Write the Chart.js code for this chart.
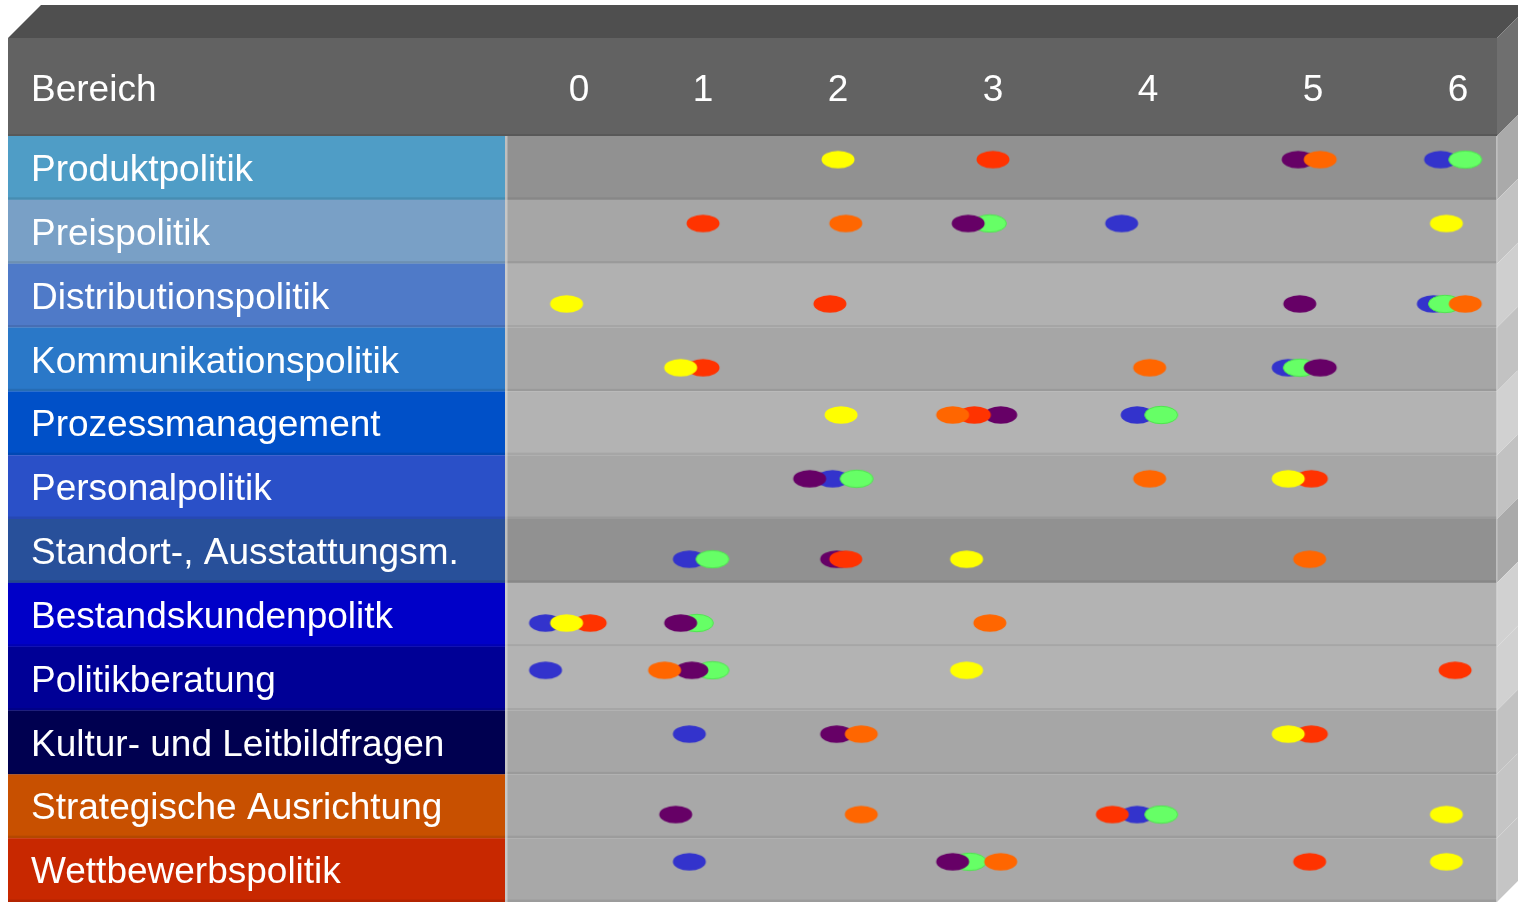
<!DOCTYPE html>
<html>
<head>
<meta charset="utf-8">
<title>Bereiche</title>
<script src="https://cdn.jsdelivr.net/npm/chart.js@4.4.1/dist/chart.umd.min.js"></script>
<style>
  html, body { margin: 0; padding: 0; background: #fff; }
  #wrap { width: 1518px; height: 902px; position: relative; }
</style>
</head>
<body>
<div id="wrap"><canvas id="myChart"></canvas></div>
<script>
// ***** DATA *****

const categories = [
  'Produktpolitik',
  'Preispolitik',
  'Distributionspolitik',
  'Kommunikationspolitik',
  'Prozessmanagement',
  'Personalpolitik',
  'Standort-, Ausstattungsm.',
  'Bestandskundenpolitk',
  'Politikberatung',
  'Kultur- und Leitbildfragen',
  'Strategische Ausrichtung',
  'Wettbewerbspolitik'
];
const tickLabels = ['0', '1', '2', '3', '4', '5', '6'];
const headerLabel = 'Bereich';

// one score per Bereich and series (null = no mark)
const yellowScores = [2.0, 5.92, -0.1, 0.82, 2.02, 4.85, 2.83, -0.1, 2.83, 4.85, 5.92, 5.92];
const orangeScores = [5.05, 2.05, 6.05, 4.01, 2.74, 4.01, 4.98, 2.98, 0.69, 2.15, 2.15, 3.05];
const redScores = [3.0, 1.0, 1.94, 1.0, 2.88, 4.99, 2.05, 0.09, 5.98, 4.99, 3.77, 4.98];
const purpleScores = [4.91, 2.84, 4.92, 5.05, 3.05, 1.79, 1.99, 0.82, 0.91, 1.99, 0.78, 2.74];
const greenScores = [6.05, 2.98, 5.91, 4.92, 4.08, 2.12, 1.07, 0.95, 1.07, null, 4.08, 2.85];
const blueScores = [5.88, 3.83, 5.83, 4.85, 3.93, 1.96, 0.89, -0.27, -0.27, 0.89, 3.93, 0.89];


// ***** LOOK *****

const FONT = "'Liberation Sans', Arial, Helvetica, sans-serif";
const TABLE_LEFT = 8;
const DEPTH = 33;

const labelColors = [
  '#4f9dc6', '#79a0c6', '#4f7ac8', '#2a78c8', '#0050c8', '#2a50c8',
  '#28509a', '#0000c8', '#000096', '#000050', '#c85000', '#c82800'
];
const rowGreys = [
  '#919191', '#a6a6a6', '#b1b1b1', '#a6a6a6', '#b3b3b3', '#a6a6a6',
  '#919191', '#b3b3b3', '#b3b3b3', '#a6a6a6', '#a8a8a8', '#a8a8a8'
];
// dots sit a little above (-1) or below (+1) the row middle
const rowLift = [-1, -1, 1, 1, -1, -1, 1, 1, -1, -1, 1, -1];

// where each whole score sits across the plot width (0..1)
const scoreStops = [0.0746, 0.1996, 0.3357, 0.4919, 0.6482, 0.8145, 0.9607];


// ***** HELPERS *****

function shade(hex, k) {
  const n = parseInt(hex.slice(1), 16);
  const c = [(n >> 16) & 255, (n >> 8) & 255, n & 255].map(v => Math.max(0, Math.min(255, Math.round(v * k))));
  return `rgb(${c[0]}, ${c[1]}, ${c[2]})`;
}

function ellipseDot(fill, stroke) {
  const cv = document.createElement('canvas');
  cv.width = 36;
  cv.height = 20;
  const c = cv.getContext('2d');
  c.beginPath();
  c.ellipse(18, 10, 16.5, 8.7, 0, 0, Math.PI * 2);
  c.fillStyle = fill;
  c.fill();
  if (stroke) {
    c.lineWidth = 1;
    c.strokeStyle = stroke;
    c.stroke();
  }
  return cv;
}

function toPoints(scores) {
  const pts = [];
  scores.forEach((x, i) => {
    if (x !== null) pts.push({ x: x, y: i + rowLift[i] * 0.13 });
  });
  return pts;
}

// linear scale whose whole numbers are spaced unevenly
class StepScale extends Chart.LinearScale {
  getPixelForValue(value) {
    if (value === null || isNaN(value)) return NaN;
    const k = Math.min(Math.max(Math.floor(value), 0), scoreStops.length - 2);
    const f = scoreStops[k] + (value - k) * (scoreStops[k + 1] - scoreStops[k]);
    return this.getPixelForDecimal(f);
  }
  getValueForPixel(pixel) {
    const f = this.getDecimalForPixel(pixel);
    let k = 0;
    while (k < scoreStops.length - 2 && f > scoreStops[k + 1]) k++;
    return k + (f - scoreStops[k]) / (scoreStops[k + 1] - scoreStops[k]);
  }
}
StepScale.id = 'stepped';
StepScale.defaults = Chart.LinearScale.defaults;
Chart.register(StepScale);

// labels may hang over the ends, the table should not shrink for them
function noEdgePadding(scale) {
  scale.paddingTop = 0;
  scale.paddingBottom = 0;
  scale.paddingLeft = 0;
  scale.paddingRight = 0;
}


// ***** TABLE BACKGROUND PLUGIN *****

const tableBackdrop = {
  id: 'tableBackdrop',
  beforeDraw(chart) {
    const ctx = chart.ctx;
    const area = chart.chartArea;
    const xs = chart.scales.x;
    const ys = chart.scales.y;
    const right = area.right;
    const rowH = Math.abs(ys.getPixelForValue(1) - ys.getPixelForValue(0));

    ctx.save();
    ctx.fillStyle = '#ffffff';
    ctx.fillRect(0, 0, chart.width, chart.height);

    // top face of the block
    ctx.fillStyle = '#4f4f4f';
    ctx.beginPath();
    ctx.moveTo(TABLE_LEFT, xs.top);
    ctx.lineTo(TABLE_LEFT + DEPTH, xs.top - DEPTH);
    ctx.lineTo(right + DEPTH, xs.top - DEPTH);
    ctx.lineTo(right, xs.top);
    ctx.closePath();
    ctx.fill();

    // header front and side
    ctx.fillStyle = '#626262';
    ctx.fillRect(TABLE_LEFT, xs.top, right - TABLE_LEFT, xs.bottom - xs.top);
    ctx.fillStyle = '#585858';
    ctx.fillRect(TABLE_LEFT, xs.bottom - 2, right - TABLE_LEFT, 2);
    ctx.fillStyle = '#6f6f6f';
    ctx.beginPath();
    ctx.moveTo(right, xs.top);
    ctx.lineTo(right + DEPTH, xs.top - DEPTH);
    ctx.lineTo(right + DEPTH, xs.bottom - DEPTH);
    ctx.lineTo(right, xs.bottom);
    ctx.closePath();
    ctx.fill();

    // one band per Bereich
    categories.forEach((name, i) => {
      const top = ys.getPixelForValue(i) - rowH / 2;
      const bottom = top + rowH;

      ctx.fillStyle = labelColors[i];
      ctx.fillRect(TABLE_LEFT, top, area.left - TABLE_LEFT, rowH);
      ctx.fillStyle = shade(labelColors[i], 0.9);
      ctx.fillRect(TABLE_LEFT, bottom - 2.5, area.left - TABLE_LEFT, 2.5);

      ctx.fillStyle = rowGreys[i];
      ctx.fillRect(area.left, top, right - area.left, rowH);
      ctx.fillStyle = shade(rowGreys[i], 0.93);
      ctx.fillRect(area.left, bottom - 2.5, right - area.left, 2.5);

      ctx.fillStyle = shade(rowGreys[i], 1.17);
      ctx.beginPath();
      ctx.moveTo(right, top);
      ctx.lineTo(right + DEPTH, top - DEPTH);
      ctx.lineTo(right + DEPTH, bottom - DEPTH);
      ctx.lineTo(right, bottom);
      ctx.closePath();
      ctx.fill();
      ctx.strokeStyle = 'rgba(255,255,255,0.25)';
      ctx.lineWidth = 1;
      ctx.beginPath();
      ctx.moveTo(right + 0.5, bottom);
      ctx.lineTo(right + DEPTH, bottom - DEPTH);
      ctx.stroke();
    });

    // light seam between labels and plot, and the front edge
    ctx.fillStyle = 'rgba(220,220,220,0.6)';
    ctx.fillRect(area.left, area.top, 2.5, area.bottom - area.top);
    ctx.fillRect(right - 1, area.top, 1.5, area.bottom - area.top);

    // column heading
    ctx.fillStyle = '#ffffff';
    ctx.font = `37px ${FONT}`;
    ctx.textAlign = 'left';
    ctx.textBaseline = 'middle';
    ctx.fillText(headerLabel, ys.left, xs.bottom - 26.5 - 18.5);
    ctx.restore();
  }
};


// ***** CHART *****

const series = [
  { label: 'Gelb', scores: yellowScores, dot: ellipseDot('#ffff00') },
  { label: 'Orange', scores: orangeScores, dot: ellipseDot('#ff6600') },
  { label: 'Rot', scores: redScores, dot: ellipseDot('#ff3300') },
  { label: 'Lila', scores: purpleScores, dot: ellipseDot('#660066') },
  { label: 'Gruen', scores: greenScores, dot: ellipseDot('#66ff66', '#4fe44f') },
  { label: 'Blau', scores: blueScores, dot: ellipseDot('#3333cc') }
];

const ctx = document.getElementById('myChart').getContext('2d');

new Chart(ctx, {
  type: 'scatter',
  data: {
    datasets: series.map(s => ({
      label: s.label,
      data: toPoints(s.scores),
      pointStyle: s.dot,
      pointRadius: 9,
      pointHoverRadius: 9,
      clip: false
    }))
  },
  options: {
    responsive: true,
    maintainAspectRatio: false,
    animation: false,
    events: [],
    devicePixelRatio: 1,
    layout: {
      autoPadding: false,
      padding: { left: 31, top: 38, right: 21, bottom: 0 }
    },
    plugins: {
      legend: { display: false },
      tooltip: { enabled: false }
    },
    scales: {
      x: {
        type: 'stepped',
        position: 'top',
        min: -0.6,
        max: 6.6,
        border: { display: false },
        grid: { display: false, drawTicks: false },
        afterFit: scale => { scale.height = 98; noEdgePadding(scale); },
        afterBuildTicks: scale => { scale.ticks = tickLabels.map((t, i) => ({ value: i })); },
        ticks: {
          padding: 26.5,
          color: '#ffffff',
          font: { family: FONT, size: 37, lineHeight: 1 },
          maxRotation: 0,
          autoSkip: false,
          callback: (v, i) => tickLabels[i]
        }
      },
      y: {
        type: 'linear',
        reverse: true,
        min: -0.5,
        max: 11.5,
        border: { display: false },
        grid: { display: false, drawTicks: false },
        afterFit: scale => { scale.width = 474; noEdgePadding(scale); },
        afterBuildTicks: scale => { scale.ticks = categories.map((c, i) => ({ value: i })); },
        ticks: {
          padding: 0,
          labelOffset: 3,
          crossAlign: 'far',
          color: '#ffffff',
          font: { family: FONT, size: 37, lineHeight: 1 },
          autoSkip: false,
          callback: (v, i) => categories[i]
        }
      }
    }
  },
  plugins: [tableBackdrop]
});
</script>
</body>
</html>
